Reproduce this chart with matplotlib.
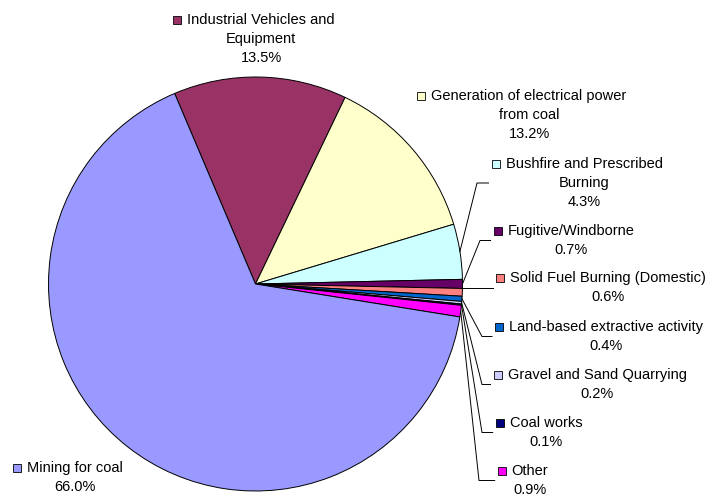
import numpy as np
import matplotlib.pyplot as plt
from matplotlib.patches import Rectangle

W, H = 707, 496

sources = ["Industrial Vehicles and\nEquipment",
           "Generation of electrical power\nfrom coal",
           "Bushfire and Prescribed\nBurning",
           "Fugitive/Windborne",
           "Solid Fuel Burning (Domestic)",
           "Land-based extractive activity",
           "Gravel and Sand Quarrying",
           "Coal works",
           "Other",
           "Mining for coal"]
shares = [13.5, 13.2, 4.3, 0.7, 0.6, 0.4, 0.2, 0.1, 0.9, 66.0]
colors = ["#993366", "#FFFFCC", "#CCFFFF", "#660066", "#FF8080",
          "#0066CC", "#CCCCFF", "#000080", "#FF00FF", "#9999FF"]

# label layout in pixels (centre x, first line y from top)
label_cx = [261, 529, 584, 571, 608, 606, 597, 546, 530, 75]
label_y1 = [20, 96, 164, 231, 278, 327, 375, 423, 471, 468]
# leader elbows (None = no leader, 0 = straight line)
elbow_x = [None, None, 477, 480, 0, 482, 482, 482, 479, None]

plt.rcParams['font.family'] = ['Liberation Sans', 'DejaVu Sans']
FS = 10.5
LINE = 19

fig = plt.figure(figsize=(W / 100, H / 100), dpi=100)
ax = fig.add_axes([0, 0, 1, 1])

cx, cy, R = 255.5, H - 284, 207
wedges, _ = ax.pie(shares, colors=colors, startangle=113, counterclock=False,
                   center=(cx, cy), radius=R,
                   wedgeprops=dict(edgecolor='black', linewidth=0.7))

ax.set_xlim(0, W)
ax.set_ylim(0, H)
ax.set_aspect('equal')
ax.axis('off')

renderer = fig.canvas.get_renderer()

for i, (name, v) in enumerate(zip(sources, shares)):
    lines = name.split("\n") + ["%.1f%%" % v]
    texts = []
    for k, ln in enumerate(lines):
        t = ax.text(label_cx[i], H - (label_y1[i] + k * LINE), ln,
                    ha='center', va='center', fontsize=FS, color='black')
        texts.append(t)
    bb = texts[0].get_window_extent(renderer)
    mx = bb.x0 - 14
    my = H - label_y1[i]
    ax.add_patch(Rectangle((mx, my - 4), 8, 8, facecolor=colors[i],
                           edgecolor='black', linewidth=0.6))

    if elbow_x[i] is not None:
        w = wedges[i]
        ang = np.deg2rad((w.theta1 + w.theta2) / 2)
        x0 = cx + R * np.cos(ang)
        y0 = cy + R * np.sin(ang)
        ym = H - (label_y1[i] + (len(lines) - 1) * LINE / 2)
        xe = mx - 3
        if elbow_x[i] == 0:
            xs, ys = [x0, xe], [ym, ym]
        else:
            xs, ys = [x0, elbow_x[i], xe], [y0, ym, ym]
        ax.plot(xs, ys, color='black', lw=0.7)

fig.savefig("out.png", dpi=100)
